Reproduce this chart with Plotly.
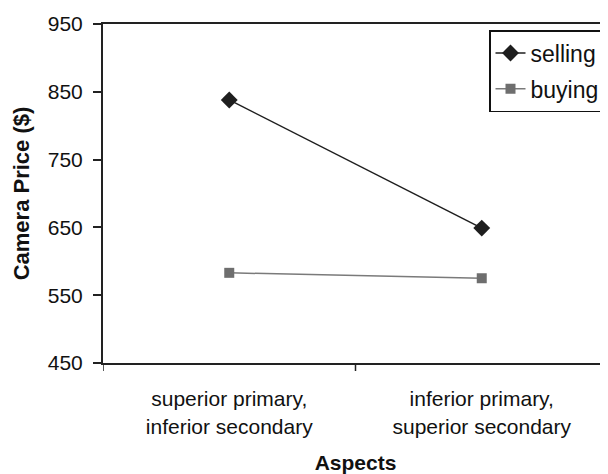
import plotly.graph_objects as go

categories = ["superior primary,<br>inferior secondary", "inferior primary,<br>superior secondary"]
selling = [838, 649]
buying = [583, 575]
y_ticks = [450, 550, 650, 750, 850, 950]

# page has an 8px body margin; figure occupies 8..608 x 8..474
W, H = 600, 466
L, R, T, B = 95, 0, 16, 111
PW, PH = W - L - R, H - T - B

fig = go.Figure()
fig.add_trace(go.Scatter(
    x=[0, 1], y=selling, name="selling", mode="lines+markers",
    line=dict(color="#1e1e1e", width=1.5),
    marker=dict(symbol="diamond", size=13, color="#1e1e1e"),
    legendgroup="a",
))
fig.add_trace(go.Scatter(
    x=[0, 1], y=buying, name="buying", mode="lines+markers",
    line=dict(color="#7a7a7a", width=1.5),
    marker=dict(symbol="square", size=10, color="#6e6e6e"),
    legendgroup="b",
))

fig.update_layout(
    width=W, height=H,
    margin=dict(l=L, r=R, t=T, b=B),
    paper_bgcolor="white", plot_bgcolor="white",
    font=dict(family="Liberation Sans, Arial, sans-serif", color="#111", size=20),
    showlegend=True,
    legend=dict(
        x=(605 - 103) / PW, xanchor="right", y=1 - 6 / PH, yanchor="top",
        bordercolor="#111", borderwidth=1.5, bgcolor="white",
        font=dict(size=23), traceorder="grouped", tracegroupgap=3,
    ),
    xaxis=dict(
        range=[-0.5, 1.5], tickmode="array", tickvals=[0, 1], ticktext=categories,
        showgrid=False, zeroline=False, showline=True, linecolor="#222", linewidth=2,
        mirror=True, ticks="outside", ticklen=16, tickcolor="rgba(0,0,0,0)",
        tickfont=dict(size=21),
        title=dict(text="<b>Aspects</b>", font=dict(size=21), standoff=22),
    ),
    yaxis=dict(
        range=[450, 950], tickvals=y_ticks, showgrid=False, zeroline=False,
        showline=True, linecolor="#222", linewidth=2, ticks="outside",
        ticklen=8, tickwidth=1.5, tickcolor="#222", tickfont=dict(size=21),
        ticklabelstandoff=6,
        title=dict(text="<b>Camera Price ($)</b>", font=dict(size=22), standoff=12),
    ),
)
# category boundary ticks on the x axis
for xb in [-0.5, 0.5]:
    fig.add_shape(type="line", xref="x", yref="paper", x0=xb, x1=xb, y0=0, y1=-8 / PH,
                  line=dict(color="#222", width=1.5))
fig.write_html("out.html")
